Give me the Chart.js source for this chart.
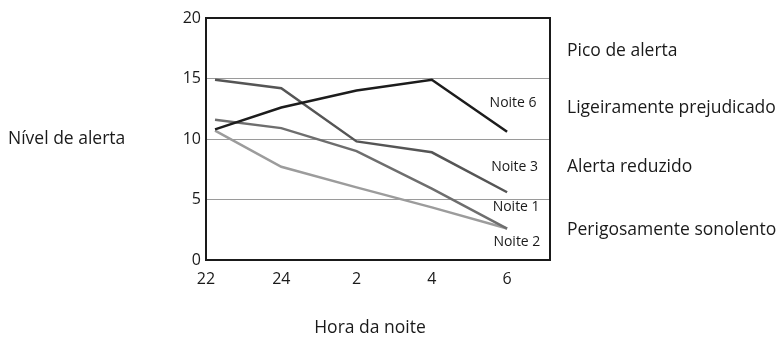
<!DOCTYPE html>
<html>
<head>
<meta charset="utf-8">
<script src="https://cdn.jsdelivr.net/npm/chart.js@4.4.1/dist/chart.umd.min.js"></script>
<style>
  html, body { margin: 0; padding: 0; background: #fff; }
  #wrap { width: 782px; height: 337px; position: relative; }
</style>
</head>
<body>
<div id="wrap"><canvas id="chart" width="782" height="337"></canvas></div>
<script>
// horas (posição no eixo) e rótulos
const hourPos = [0.12, 1, 2, 3, 4];
const hourLabels = ['22', '24', '2', '4', '6'];
const yTicks = [0, 5, 10, 15, 20];

// níveis de alerta por noite
const noite6 = [10.8, 12.6, 14.0, 14.9, 10.6];
const noite3 = [14.9, 14.2, 9.8, 8.9, 5.6];
const noite1 = [11.6, 10.9, 9.0, 5.9, 2.6];
const noite2 = [10.7, 7.7, 6.0, 4.35, 2.6];

const seriesNames = ['Noite 6', 'Noite 3', 'Noite 1', 'Noite 2'];
const seriesColors = ['#1c1c1c', '#555555', '#6e6e6e', '#9c9c9c'];
// posição dos rótulos das séries (valores do gráfico)
const seriesLabelX = [4.08, 4.1, 4.12, 4.13];
const seriesLabelY = [13.0, 7.7, 4.4, 1.5];

const zoneNames = ['Pico de alerta', 'Ligeiramente prejudicado', 'Alerta reduzido', 'Perigosamente sonolento'];
const zoneY = [17.3, 12.6, 7.7, 2.5];

const FONT = '"Open Sans", sans-serif';

function toPoints(vals) {
    return vals.map((v, i) => ({ x: hourPos[i], y: v }));
}

const textPlugin = {
    id: 'texts',
    afterDraw(chart) {
        const ctx = chart.ctx;
        const xs = chart.scales.x, ys = chart.scales.y;
        const a = chart.chartArea;
        ctx.save();
        // moldura
        ctx.strokeStyle = '#1a1a1a';
        ctx.lineWidth = 2;
        ctx.strokeRect(a.left, a.top, a.right - a.left, a.bottom - a.top);

        ctx.fillStyle = '#1a1a1a';
        ctx.textBaseline = 'middle';
        ctx.font = '14px ' + FONT;
        ctx.textAlign = 'center';
        seriesNames.forEach((n, i) => {
            ctx.fillText(n, xs.getPixelForValue(seriesLabelX[i]), ys.getPixelForValue(seriesLabelY[i]));
        });

        ctx.font = '17.5px ' + FONT;
        ctx.textAlign = 'left';
        zoneNames.forEach((n, i) => {
            ctx.fillText(n, a.right + 17, ys.getPixelForValue(zoneY[i]));
        });

        ctx.fillText('Nível de alerta', 8, ys.getPixelForValue(10));
        ctx.textAlign = 'center';
        ctx.fillText('Hora da noite', 370, 328);
        ctx.restore();
    }
};

new Chart(document.getElementById('chart'), {
    type: 'line',
    data: {
        datasets: [noite6, noite3, noite1, noite2].map((d, i) => ({
            label: seriesNames[i],
            data: toPoints(d),
            borderColor: seriesColors[i],
            borderWidth: 2.5,
            pointRadius: 0,
            tension: 0,
            fill: false
        }))
    },
    options: {
        responsive: false,
        animation: false,
        layout: { padding: { top: 18, right: 232, left: 0, bottom: 0 } },
        plugins: { legend: { display: false }, tooltip: { enabled: false } },
        scales: {
            x: {
                type: 'linear',
                min: 0,
                max: 4.57,
                afterBuildTicks: s => { s.ticks = hourPos.map((p, i) => ({ value: i })); },
                afterFit: s => { s.height = 77; },
                grid: { display: false, drawTicks: false },
                border: { display: false },
                ticks: {
                    callback: (v) => hourLabels[v],
                    color: '#1a1a1a',
                    font: { family: FONT, size: 16 },
                    padding: 10,
                    maxRotation: 0,
                    autoSkip: false
                }
            },
            y: {
                min: 0,
                max: 20,
                afterBuildTicks: s => { s.ticks = yTicks.map(v => ({ value: v })); },
                afterFit: s => { s.width = 206; },
                grid: {
                    drawTicks: false,
                    color: ctx => (ctx.tick && (ctx.tick.value === 0 || ctx.tick.value === 20)) ? 'rgba(0,0,0,0)' : '#9a9a9a',
                    lineWidth: 1
                },
                border: { display: false },
                ticks: {
                    color: '#1a1a1a',
                    font: { family: FONT, size: 16 },
                    padding: 5
                }
            }
        }
    },
    plugins: [textPlugin]
});
</script>
</body>
</html>
